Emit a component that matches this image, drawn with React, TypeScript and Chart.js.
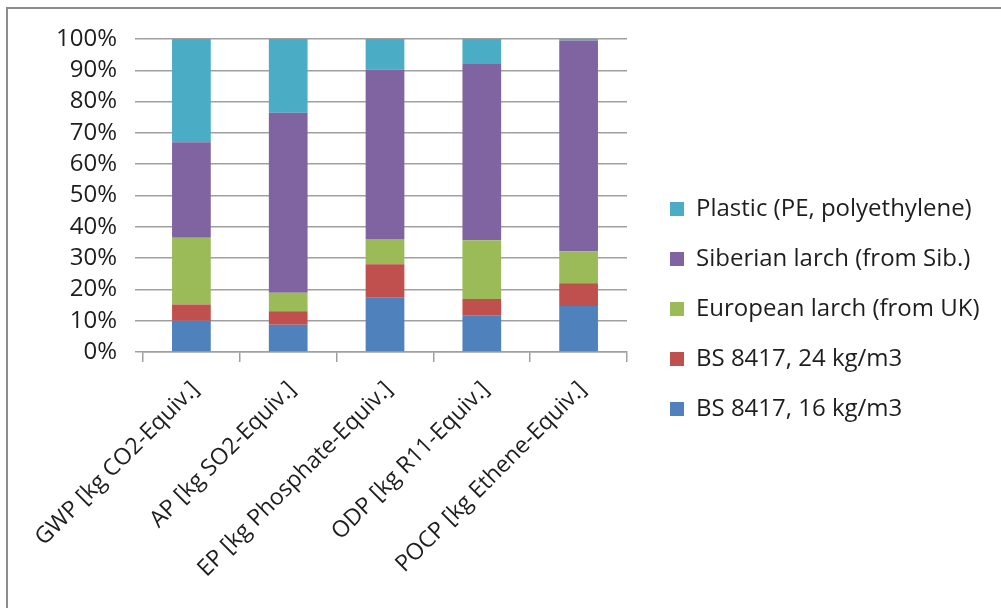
import React, { useEffect, useRef } from "react";
import { Chart, registerables } from "chart.js";

Chart.register(...registerables);

const categories = [
  "GWP [kg CO2-Equiv.]",
  "AP [kg SO2-Equiv.]",
  "EP [kg Phosphate-Equiv.]",
  "ODP [kg R11-Equiv.]",
  "POCP [kg Ethene-Equiv.]",
];

const seriesNames = [
  "BS 8417, 16 kg/m3",
  "BS 8417, 24 kg/m3",
  "European larch (from UK)",
  "Siberian larch (from Sib.)",
  "Plastic (PE, polyethylene)",
];

const bs8417_16 = [10.0, 8.7, 17.3, 11.6, 14.7];
const bs8417_24 = [5.2, 4.3, 10.7, 5.3, 7.3];
const europeanLarch = [21.3, 5.9, 8.1, 18.8, 10.2];
const siberianLarch = [30.5, 57.5, 54.1, 56.3, 67.3];
const plasticPE = [33.0, 23.6, 9.8, 8.0, 0.5];

const seriesColors = ["#4F81BD", "#C0504D", "#9BBB59", "#8064A2", "#4BACC6"];

const yMin = 0;
const yMax = 100;
const yStep = 10;

const FONT_FAMILY = "'Open Sans'";
const FONT_SIZE = 24;
const X_FONT_SIZE = 23;
const TEXT = "#1e1e1e";
const GRID = "#a0a0a0";
const W = 1001;
const H = 608;

export default function App() {
  const ref = useRef<HTMLCanvasElement>(null);

  useEffect(() => {
    const canvas = ref.current;
    if (!canvas) return;
    const ctx = canvas.getContext("2d");
    if (!ctx) return;

    const legendPad = 50 - FONT_SIZE;
    const boxW = 14;
    ctx.font = `${FONT_SIZE}px ${FONT_FAMILY}`;
    const maxText = Math.max(...seriesNames.map((s) => ctx.measureText(s).width));
    const legendWidth = legendPad + boxW + FONT_SIZE / 2 + maxText + 10;
    const legendLeft = 670 - legendPad;
    const padRight = Math.max(0, W - legendLeft - legendWidth);
    const gapW = legendLeft - 627;

    const allSeries = [bs8417_16, bs8417_24, europeanLarch, siberianLarch, plasticPE];
    const font = { family: FONT_FAMILY, size: FONT_SIZE };

    const chart = new Chart(canvas, {
      type: "bar",
      data: {
        labels: categories,
        datasets: allSeries.map((d, i) => ({
          label: seriesNames[i],
          data: d,
          backgroundColor: seriesColors[i],
          borderWidth: 0,
          barPercentage: 0.4,
          categoryPercentage: 1,
          xAxisID: "x",
          yAxisID: "y",
        })),
      },
      options: {
        responsive: false,
        animation: false,
        layout: { padding: { left: 0, top: 39, right: padRight, bottom: 29 } },
        plugins: {
          legend: {
            position: "right",
            align: "center",
            reverse: true,
            maxWidth: 600,
            labels: {
              boxWidth: boxW,
              boxHeight: boxW,
              padding: legendPad,
              color: TEXT,
              font,
            },
          },
          tooltip: { enabled: false },
          title: { display: false },
        },
        scales: {
          x: {
            stacked: true,
            grid: {
              display: true,
              drawOnChartArea: false,
              drawTicks: true,
              tickLength: 10,
              color: GRID,
              lineWidth: 1.5,
              offset: true,
            },
            border: { display: true, color: GRID, width: 1.5 },
            ticks: {
              autoSkip: false,
              minRotation: 45,
              maxRotation: 45,
              padding: 14,
              labelOffset: 4,
              color: TEXT,
              font: { family: FONT_FAMILY, size: X_FONT_SIZE },
            },
            afterFit: (s: any) => {
              s.height = 227;
            },
          },
          y: {
            stacked: true,
            min: yMin,
            max: yMax,
            ticks: {
              stepSize: yStep,
              autoSkip: false,
              padding: 18,
              color: TEXT,
              font,
              callback: (v: any) => `${v}%`,
            },
            grid: { color: GRID, lineWidth: 1.5, tickLength: 8, drawTicks: true },
            border: { display: false },
            afterFit: (s: any) => {
              s.width = 143;
            },
          },
          gap: {
            type: "linear",
            position: "right",
            display: true,
            grid: { display: false },
            ticks: { display: false },
            border: { display: false },
            afterFit: (s: any) => {
              s.width = gapW;
            },
          },
        },
      } as any,
    });

    return () => chart.destroy();
  }, []);

  return (
    <div
      style={{
        position: "fixed",
        left: 0,
        top: 0,
        width: W,
        height: H,
        background: "#ffffff",
        overflow: "hidden",
      }}
    >
      <div
        style={{
          position: "absolute",
          left: 6,
          top: 7,
          width: 1100,
          height: 700,
          borderTop: "2px solid #8c8c8c",
          borderLeft: "2px solid #8c8c8c",
        }}
      />
      <canvas
        ref={ref}
        width={W}
        height={H}
        style={{ position: "absolute", left: 0, top: 0, display: "block" }}
      />
    </div>
  );
}
